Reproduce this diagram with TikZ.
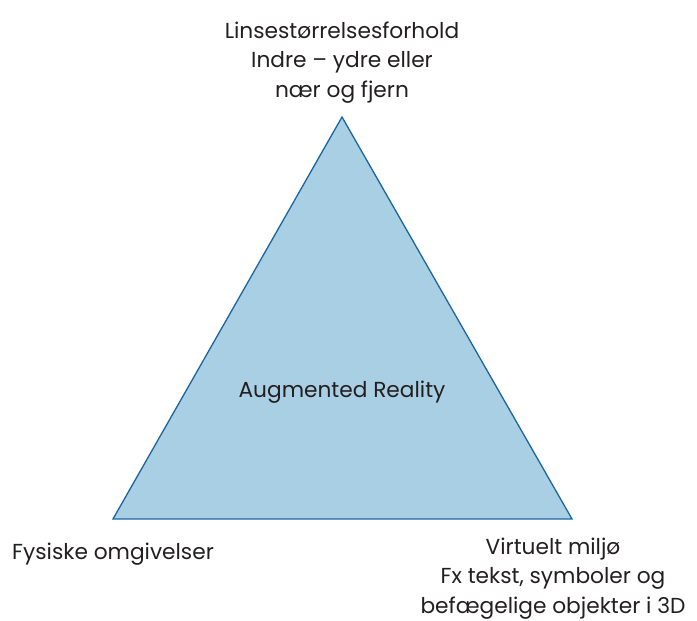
\documentclass[tikz,border=0pt]{standalone}
\usepackage{fontspec}
\setmainfont{Poppins}
\definecolor{arfill}{HTML}{A8CFE3}
\definecolor{arline}{HTML}{1B65A0}
\definecolor{artext}{HTML}{231F20}

\begin{document}
\begin{tikzpicture}[x=1pt, y=1pt, every node/.style={text=artext, font=\fontsize{21.7}{29.5}\selectfont}]
        \useasboundingbox (0,0) rectangle (697,621);
        \coordinate (top) at (342,504);
        \coordinate (left) at (113,102);
        \coordinate (right) at (572,102);
        \draw [fill=arfill, draw=arline, line width=1.3pt] (top) -- (right) -- (left) -- cycle;
        \node (ar) at (342,229) {Augmented Reality};
        \node (lens) [align=center, anchor=north] at (342,603) {Linsestørrelsesforhold\\Indre – ydre eller\\nær og fjern};
        \node (phys) [anchor=base west, inner sep=0pt] at (12,61) {Fysiske omgivelser};
        \node (virt) [align=center, anchor=north] at (553,87) {Virtuelt miljø\\Fx tekst, symboler og\\befægelige objekter i 3D};
      \end{tikzpicture}
\end{document}
